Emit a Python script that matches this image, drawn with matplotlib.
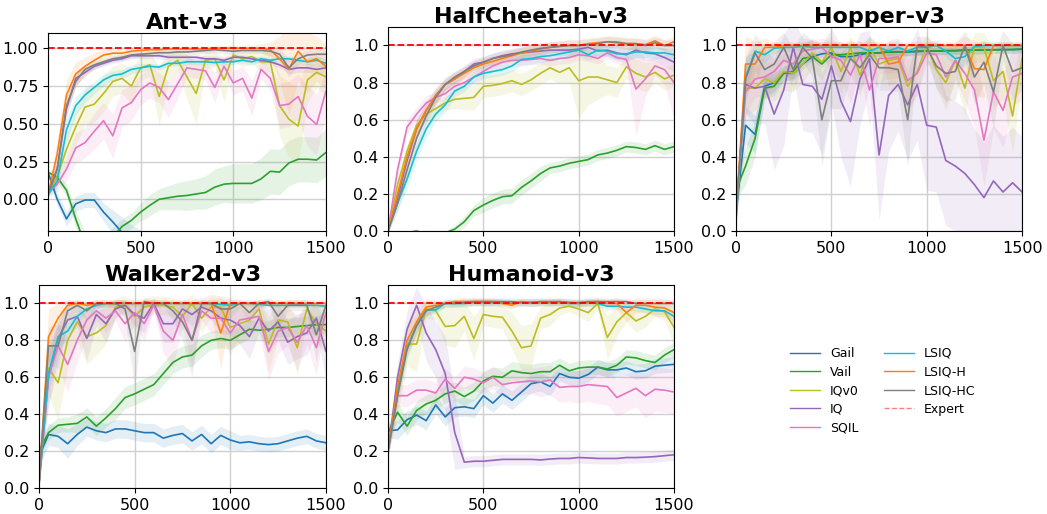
import numpy as np
import matplotlib
matplotlib.use("Agg")
import matplotlib.pyplot as plt
from matplotlib.lines import Line2D

plt.rcParams['font.family'] = ['DejaVu Sans']
plt.rcParams['font.size'] = 11

steps = list(range(0, 1501, 50))

methods = ["Gail", "Vail", "IQv0", "IQ", "SQIL", "LSIQ", "LSIQ-H", "LSIQ-HC"]
colors = ["tab:blue", "tab:green", "tab:olive", "tab:purple", "tab:pink",
          "tab:cyan", "tab:orange", "tab:gray"]
envs = ["Ant-v3", "HalfCheetah-v3", "Hopper-v3", "Walker2d-v3", "Humanoid-v3"]

# ---------------- Ant-v3 ----------------
ant_gail = [0.18, 0.0, -0.13, -0.03, -0.005, -0.005, -0.085, -0.15, -0.22, -0.3, -0.35, -0.45, -0.45, -0.45, -0.45, -0.45,
            -0.45, -0.45, -0.45, -0.45, -0.45, -0.45, -0.45, -0.45, -0.45, -0.45, -0.45, -0.45, -0.45, -0.45, -0.45]
ant_gail_sd = [0.02, 0.04, 0.05, 0.05, 0.05, 0.05, 0.06, 0.08, 0.1, 0.13, 0.15, 0.1, 0.1, 0.1, 0.1, 0.1,
               0.1, 0.1, 0.1, 0.1, 0.1, 0.1, 0.1, 0.1, 0.1, 0.1, 0.1, 0.1, 0.1, 0.1, 0.1]
ant_vail = [0.18, 0.145, 0.06, -0.13, -0.3, -0.35, -0.33, -0.25, -0.18, -0.14, -0.085, -0.04, 0.0, 0.01, 0.02, 0.025,
            0.035, 0.045, 0.08, 0.1, 0.105, 0.105, 0.105, 0.135, 0.185, 0.18, 0.24, 0.265, 0.265, 0.26, 0.31]
ant_vail_sd = [0.02, 0.03, 0.04, 0.06, 0.08, 0.08, 0.08, 0.06, 0.05, 0.05, 0.06, 0.07, 0.07, 0.08, 0.09, 0.1,
               0.1, 0.11, 0.12, 0.12, 0.13, 0.13, 0.13, 0.14, 0.15, 0.15, 0.15, 0.15, 0.15, 0.15, 0.16]
ant_iqv0 = [0.04, 0.15, 0.33, 0.48, 0.61, 0.63, 0.7, 0.78, 0.8, 0.75, 0.87, 0.89, 0.68, 0.88, 0.92, 0.81,
            0.7, 0.92, 0.93, 0.79, 0.955, 0.93, 0.945, 0.91, 0.91, 0.62, 0.53, 0.485, 0.79, 0.84, 0.81]
ant_iqv0_sd = [0.02, 0.06, 0.1, 0.12, 0.12, 0.12, 0.12, 0.1, 0.1, 0.12, 0.08, 0.08, 0.2, 0.1, 0.06, 0.15,
               0.2, 0.06, 0.05, 0.15, 0.04, 0.05, 0.05, 0.06, 0.08, 0.2, 0.25, 0.25, 0.15, 0.1, 0.12]
ant_iq = [0.03, 0.2, 0.6, 0.8, 0.84, 0.88, 0.9, 0.92, 0.93, 0.95, 0.95, 0.95, 0.95, 0.94, 0.94, 0.94,
          0.94, 0.93, 0.93, 0.92, 0.94, 0.94, 0.93, 0.92, 0.91, 0.89, 0.86, 0.87, 0.87, 0.86, 0.87]
ant_iq_sd = [0.02, 0.05, 0.06, 0.04, 0.03, 0.02, 0.02, 0.02, 0.02, 0.02, 0.02, 0.02, 0.02, 0.02, 0.02, 0.02,
             0.02, 0.02, 0.02, 0.02, 0.02, 0.02, 0.02, 0.02, 0.02, 0.02, 0.03, 0.03, 0.03, 0.03, 0.03]
ant_sqil = [0.04, 0.1, 0.2, 0.34, 0.375, 0.45, 0.52, 0.42, 0.605, 0.64, 0.725, 0.77, 0.74, 0.66, 0.765, 0.87,
            0.86, 0.85, 0.74, 0.88, 0.77, 0.8, 0.67, 0.86, 0.8, 0.62, 0.63, 0.68, 0.55, 0.495, 0.715]
ant_sqil_sd = [0.02, 0.05, 0.08, 0.1, 0.1, 0.12, 0.12, 0.15, 0.12, 0.12, 0.1, 0.1, 0.1, 0.12, 0.1, 0.06,
               0.06, 0.06, 0.1, 0.05, 0.08, 0.08, 0.12, 0.06, 0.08, 0.15, 0.15, 0.15, 0.2, 0.2, 0.15]
ant_lsiq = [0.03, 0.12, 0.46, 0.62, 0.69, 0.74, 0.79, 0.82, 0.83, 0.86, 0.87, 0.88, 0.875, 0.9, 0.9, 0.91,
            0.91, 0.91, 0.905, 0.91, 0.91, 0.92, 0.91, 0.93, 0.92, 0.93, 0.93, 0.92, 0.91, 0.92, 0.9]
ant_lsiq_sd = [0.02, 0.05, 0.08, 0.06, 0.05, 0.04, 0.04, 0.03, 0.03, 0.03, 0.03, 0.02, 0.02, 0.02, 0.02, 0.02,
               0.02, 0.02, 0.02, 0.02, 0.02, 0.02, 0.02, 0.02, 0.02, 0.02, 0.02, 0.02, 0.02, 0.03, 0.03]
ant_lsiqh = [0.03, 0.3, 0.69, 0.83, 0.88, 0.92, 0.955, 0.967, 0.967, 0.98, 0.985, 0.99, 0.99, 0.995, 0.995, 0.995,
             0.995, 0.995, 1.0, 1.0, 1.0, 1.0, 1.0, 1.0, 0.99, 0.93, 0.86, 0.98, 0.91, 0.93, 0.88]
ant_lsiqh_sd = [0.02, 0.1, 0.1, 0.08, 0.06, 0.05, 0.04, 0.03, 0.03, 0.03, 0.02, 0.02, 0.02, 0.02, 0.02, 0.02,
                0.02, 0.02, 0.02, 0.02, 0.02, 0.02, 0.02, 0.03, 0.05, 0.15, 0.3, 0.2, 0.2, 0.15, 0.15]
ant_lsiqhc = [0.04, 0.2, 0.62, 0.78, 0.86, 0.89, 0.91, 0.93, 0.94, 0.955, 0.96, 0.965, 0.97, 0.97, 0.975, 0.975,
              0.98, 0.985, 0.99, 0.985, 0.98, 0.985, 0.985, 0.985, 0.98, 0.96, 0.87, 0.93, 0.955, 0.96, 0.96]
ant_lsiqhc_sd = [0.02, 0.06, 0.06, 0.04, 0.03, 0.03, 0.02, 0.02, 0.02, 0.02, 0.02, 0.02, 0.02, 0.02, 0.02, 0.02,
                 0.02, 0.02, 0.02, 0.02, 0.02, 0.02, 0.02, 0.02, 0.03, 0.04, 0.06, 0.04, 0.03, 0.03, 0.03]

# ---------------- HalfCheetah-v3 ----------------
hc_gail = [-0.05] * 31
hc_gail_sd = [0.01] * 31
hc_vail = [0.0, -0.02, -0.01, 0.0, -0.02, -0.02, -0.01, 0.01, 0.05, 0.11, 0.14, 0.165, 0.185, 0.19, 0.235, 0.27,
           0.31, 0.34, 0.35, 0.365, 0.375, 0.385, 0.41, 0.42, 0.435, 0.455, 0.45, 0.44, 0.46, 0.44, 0.455]
hc_vail_sd = [0.01, 0.01, 0.01, 0.01, 0.01, 0.01, 0.01, 0.02, 0.03, 0.03, 0.04, 0.04, 0.04, 0.04, 0.04, 0.04,
              0.04, 0.03, 0.03, 0.03, 0.03, 0.03, 0.03, 0.03, 0.03, 0.03, 0.03, 0.03, 0.03, 0.03, 0.03]
hc_iqv0 = [0.0, 0.25, 0.43, 0.57, 0.63, 0.66, 0.69, 0.71, 0.715, 0.72, 0.78, 0.785, 0.795, 0.81, 0.79, 0.815,
           0.85, 0.88, 0.855, 0.88, 0.81, 0.83, 0.83, 0.815, 0.8, 0.885, 0.85, 0.83, 0.855, 0.82, 0.84]
hc_iqv0_sd = [0.01, 0.04, 0.04, 0.04, 0.04, 0.04, 0.04, 0.05, 0.06, 0.07, 0.06, 0.06, 0.06, 0.06, 0.06, 0.06,
              0.06, 0.06, 0.06, 0.08, 0.2, 0.15, 0.12, 0.08, 0.08, 0.06, 0.08, 0.08, 0.06, 0.06, 0.06]
hc_iq = [0.0, 0.18, 0.38, 0.55, 0.65, 0.73, 0.79, 0.82, 0.86, 0.9, 0.91, 0.93, 0.945, 0.955, 0.96, 0.965,
         0.97, 0.975, 0.975, 0.975, 0.98, 0.99, 0.97, 0.975, 0.96, 0.95, 0.975, 0.96, 0.955, 0.935, 0.91]
hc_iq_sd = [0.01, 0.04, 0.05, 0.05, 0.05, 0.04, 0.04, 0.04, 0.03, 0.03, 0.03, 0.03, 0.03, 0.03, 0.03, 0.03,
            0.03, 0.03, 0.03, 0.03, 0.03, 0.03, 0.03, 0.03, 0.04, 0.04, 0.04, 0.04, 0.04, 0.05, 0.05]
hc_sqil = [0.0, 0.33, 0.56, 0.63, 0.69, 0.72, 0.74, 0.78, 0.8, 0.83, 0.86, 0.89, 0.91, 0.92, 0.92, 0.925,
           0.93, 0.92, 0.93, 0.935, 0.95, 0.945, 0.93, 0.96, 0.935, 0.925, 0.765, 0.82, 0.89, 0.87, 0.8]
hc_sqil_sd = [0.01, 0.04, 0.04, 0.04, 0.04, 0.03, 0.03, 0.03, 0.03, 0.03, 0.03, 0.03, 0.03, 0.03, 0.03, 0.03,
              0.03, 0.03, 0.03, 0.03, 0.03, 0.03, 0.03, 0.03, 0.03, 0.04, 0.25, 0.1, 0.05, 0.08, 0.2]
hc_lsiq = [0.0, 0.15, 0.28, 0.43, 0.55, 0.63, 0.68, 0.755, 0.78, 0.83, 0.85, 0.86, 0.87, 0.89, 0.925, 0.93,
           0.94, 0.945, 0.955, 0.965, 0.975, 0.95, 0.975, 0.97, 0.955, 0.955, 0.965, 0.965, 0.96, 0.96, 0.95]
hc_lsiq_sd = [0.01, 0.04, 0.05, 0.05, 0.05, 0.04, 0.04, 0.03, 0.03, 0.03, 0.03, 0.03, 0.03, 0.03, 0.03, 0.03,
              0.03, 0.03, 0.03, 0.03, 0.03, 0.03, 0.03, 0.03, 0.03, 0.03, 0.03, 0.03, 0.03, 0.03, 0.03]
hc_lsiqh = [0.0, 0.2, 0.4, 0.55, 0.65, 0.73, 0.79, 0.82, 0.85, 0.88, 0.9, 0.915, 0.93, 0.945, 0.96, 0.97,
            0.98, 0.99, 0.995, 1.0, 1.0, 1.01, 1.015, 1.02, 1.02, 1.01, 1.01, 1.005, 1.025, 1.0, 1.02]
hc_lsiqh_sd = [0.01, 0.04, 0.05, 0.05, 0.04, 0.04, 0.03, 0.03, 0.03, 0.03, 0.03, 0.03, 0.03, 0.03, 0.03, 0.03,
               0.03, 0.03, 0.03, 0.03, 0.03, 0.03, 0.03, 0.03, 0.03, 0.03, 0.03, 0.03, 0.03, 0.03, 0.03]
hc_lsiqhc = [0.0, 0.15, 0.33, 0.5, 0.62, 0.72, 0.79, 0.83, 0.86, 0.89, 0.91, 0.93, 0.94, 0.95, 0.965, 0.975,
             0.985, 0.99, 0.995, 1.0, 1.0, 1.005, 1.01, 1.02, 1.015, 1.01, 1.01, 1.0, 1.015, 1.0, 1.0]
hc_lsiqhc_sd = [0.01, 0.04, 0.05, 0.05, 0.04, 0.04, 0.03, 0.03, 0.03, 0.03, 0.03, 0.03, 0.03, 0.03, 0.03, 0.03,
                0.03, 0.03, 0.03, 0.03, 0.03, 0.03, 0.03, 0.03, 0.03, 0.03, 0.03, 0.03, 0.03, 0.03, 0.03]

# ---------------- Hopper-v3 ----------------
hop_gail = [0.1, 0.57, 0.52, 0.78, 0.8, 0.85, 0.85, 0.9, 0.94, 0.955, 0.96, 0.94, 0.94, 0.95, 0.96, 0.96,
            0.965, 0.965, 0.965, 0.967, 0.97, 0.97, 0.972, 0.972, 0.975, 0.975, 0.975, 0.977, 0.977, 0.978, 0.98]
hop_gail_sd = [0.05, 0.1, 0.1, 0.06, 0.05, 0.04, 0.04, 0.03, 0.02, 0.02, 0.02, 0.02, 0.02, 0.02, 0.02, 0.02,
               0.02, 0.02, 0.02, 0.02, 0.02, 0.02, 0.02, 0.02, 0.02, 0.02, 0.02, 0.02, 0.02, 0.02, 0.02]
hop_vail = [0.22, 0.35, 0.5, 0.77, 0.78, 0.85, 0.86, 0.93, 0.94, 0.9, 0.95, 0.95, 0.955, 0.96, 0.96, 0.96,
            0.965, 0.965, 0.967, 0.97, 0.97, 0.97, 0.972, 0.972, 0.975, 0.975, 0.975, 0.977, 0.978, 0.978, 0.98]
hop_vail_sd = [0.05, 0.1, 0.1, 0.06, 0.05, 0.04, 0.04, 0.03, 0.02, 0.02, 0.02, 0.02, 0.02, 0.02, 0.02, 0.02,
               0.02, 0.02, 0.02, 0.02, 0.02, 0.02, 0.02, 0.02, 0.02, 0.02, 0.02, 0.02, 0.02, 0.02, 0.02]
hop_iqv0 = [0.1, 0.77, 0.77, 0.82, 0.8, 0.86, 0.85, 0.9, 0.96, 0.91, 0.99, 0.86, 0.99, 0.84, 0.99, 0.9,
            0.92, 0.93, 0.78, 0.86, 1.0, 0.87, 0.8, 0.92, 0.77, 0.99, 0.99, 0.81, 0.86, 0.62, 0.93]
hop_iqv0_sd = [0.05, 0.15, 0.12, 0.1, 0.1, 0.1, 0.1, 0.1, 0.08, 0.1, 0.06, 0.12, 0.06, 0.12, 0.06, 0.1,
               0.1, 0.1, 0.15, 0.12, 0.06, 0.1, 0.15, 0.1, 0.15, 0.08, 0.08, 0.15, 0.15, 0.2, 0.12]
hop_iq = [0.1, 0.79, 0.77, 0.78, 0.63, 0.76, 0.99, 0.79, 0.78, 0.71, 0.89, 0.7, 0.59, 0.82, 0.93, 0.41,
          0.73, 0.79, 0.68, 0.79, 0.57, 0.56, 0.38, 0.35, 0.31, 0.25, 0.18, 0.27, 0.21, 0.26, 0.21]
hop_iq_sd = [0.05, 0.15, 0.2, 0.2, 0.3, 0.3, 0.15, 0.25, 0.25, 0.3, 0.2, 0.3, 0.35, 0.25, 0.15, 0.35,
             0.3, 0.25, 0.3, 0.3, 0.35, 0.35, 0.35, 0.35, 0.35, 0.3, 0.3, 0.3, 0.3, 0.3, 0.3]
hop_sqil = [0.1, 0.75, 0.82, 0.83, 0.86, 0.92, 0.9, 0.97, 0.98, 0.99, 0.94, 0.92, 0.84, 0.95, 0.76, 0.93,
            0.93, 0.94, 0.81, 0.85, 0.96, 0.95, 0.83, 0.92, 0.85, 0.76, 0.49, 0.75, 0.65, 0.83, 0.85]
hop_sqil_sd = [0.05, 0.12, 0.1, 0.1, 0.1, 0.08, 0.08, 0.05, 0.05, 0.05, 0.08, 0.1, 0.15, 0.08, 0.2, 0.08,
               0.08, 0.08, 0.15, 0.12, 0.06, 0.08, 0.15, 0.1, 0.15, 0.2, 0.25, 0.2, 0.2, 0.15, 0.15]
hop_lsiq = [0.06, 0.83, 0.97, 0.95, 0.985, 0.99, 0.99, 0.995, 0.99, 0.99, 0.99, 0.99, 0.99, 0.99, 0.97, 0.99,
            0.97, 0.99, 0.97, 0.99, 0.99, 1.0, 0.97, 0.93, 0.94, 0.995, 1.0, 1.0, 1.0, 1.0, 1.0]
hop_lsiq_sd = [0.05, 0.1, 0.04, 0.04, 0.03, 0.02, 0.02, 0.02, 0.02, 0.02, 0.02, 0.02, 0.02, 0.02, 0.03, 0.02,
               0.03, 0.02, 0.03, 0.02, 0.02, 0.02, 0.03, 0.05, 0.05, 0.02, 0.02, 0.02, 0.02, 0.02, 0.02]
hop_lsiqh = [0.08, 0.9, 0.9, 0.99, 0.99, 1.0, 1.0, 1.0, 1.0, 1.0, 1.0, 1.0, 1.0, 1.0, 1.0, 1.0,
             0.9, 0.91, 1.0, 1.0, 1.0, 1.0, 1.0, 1.0, 1.0, 0.875, 0.87, 1.0, 1.0, 1.0, 1.0]
hop_lsiqh_sd = [0.05, 0.15, 0.12, 0.05, 0.03, 0.02, 0.02, 0.02, 0.02, 0.02, 0.02, 0.02, 0.02, 0.02, 0.02, 0.02,
                0.12, 0.1, 0.02, 0.02, 0.02, 0.02, 0.02, 0.02, 0.05, 0.15, 0.15, 0.02, 0.02, 0.02, 0.02]
hop_lsiqhc = [0.1, 0.82, 0.96, 0.87, 0.9, 0.99, 0.87, 0.99, 0.93, 0.6, 0.81, 0.81, 0.93, 0.88, 0.95, 0.88,
              0.88, 0.87, 0.6, 1.0, 0.99, 0.89, 0.85, 0.86, 1.0, 0.83, 0.91, 0.75, 1.0, 0.86, 0.88]
hop_lsiqhc_sd = [0.05, 0.12, 0.1, 0.12, 0.12, 0.08, 0.12, 0.08, 0.1, 0.25, 0.15, 0.15, 0.1, 0.12, 0.1, 0.12,
                 0.12, 0.12, 0.25, 0.05, 0.06, 0.12, 0.15, 0.15, 0.08, 0.15, 0.12, 0.2, 0.08, 0.15, 0.12]

# ---------------- Walker2d-v3 ----------------
wk_gail = [0.17, 0.29, 0.28, 0.24, 0.29, 0.33, 0.31, 0.3, 0.32, 0.32, 0.31, 0.3, 0.3, 0.27, 0.285, 0.295,
           0.255, 0.29, 0.24, 0.285, 0.26, 0.245, 0.25, 0.24, 0.235, 0.24, 0.255, 0.27, 0.28, 0.255, 0.245]
wk_gail_sd = [0.05, 0.06, 0.06, 0.08, 0.06, 0.05, 0.05, 0.05, 0.05, 0.05, 0.05, 0.05, 0.05, 0.05, 0.05, 0.05,
              0.05, 0.05, 0.05, 0.05, 0.05, 0.04, 0.04, 0.04, 0.04, 0.04, 0.04, 0.04, 0.04, 0.04, 0.04]
wk_vail = [0.2, 0.3, 0.34, 0.345, 0.35, 0.385, 0.335, 0.38, 0.43, 0.49, 0.51, 0.535, 0.56, 0.62, 0.68, 0.71,
           0.72, 0.77, 0.8, 0.81, 0.8, 0.83, 0.86, 0.855, 0.86, 0.87, 0.87, 0.875, 0.88, 0.885, 0.885]
wk_vail_sd = [0.03, 0.04, 0.04, 0.04, 0.05, 0.05, 0.05, 0.05, 0.06, 0.06, 0.06, 0.06, 0.06, 0.06, 0.06, 0.06,
              0.06, 0.06, 0.05, 0.05, 0.05, 0.05, 0.05, 0.05, 0.05, 0.05, 0.05, 0.05, 0.05, 0.05, 0.05]
wk_iqv0 = [0.02, 0.65, 0.57, 0.8, 0.9, 0.82, 0.84, 0.88, 0.98, 0.99, 0.93, 0.98, 0.99, 0.99, 0.98, 0.93,
           1.0, 0.92, 0.98, 0.98, 0.87, 0.89, 0.91, 0.97, 0.78, 0.91, 0.9, 0.76, 0.97, 0.89, 0.85]
wk_iqv0_sd = [0.02, 0.15, 0.2, 0.15, 0.1, 0.15, 0.12, 0.1, 0.05, 0.05, 0.08, 0.05, 0.05, 0.05, 0.05, 0.08,
              0.05, 0.08, 0.05, 0.05, 0.12, 0.1, 0.1, 0.05, 0.15, 0.1, 0.1, 0.15, 0.05, 0.1, 0.12]
wk_iq = [0.02, 0.6, 0.81, 0.91, 0.93, 0.81, 0.94, 0.89, 0.97, 0.99, 0.94, 0.92, 1.0, 0.89, 0.89, 0.97,
         0.94, 0.98, 0.96, 0.92, 0.91, 0.88, 0.82, 0.92, 0.85, 0.9, 0.79, 0.82, 0.84, 0.92, 0.74]
wk_iq_sd = [0.02, 0.15, 0.1, 0.08, 0.06, 0.12, 0.06, 0.1, 0.05, 0.03, 0.06, 0.08, 0.03, 0.1, 0.1, 0.05,
            0.06, 0.04, 0.05, 0.08, 0.08, 0.1, 0.12, 0.08, 0.12, 0.1, 0.12, 0.12, 0.12, 0.08, 0.15]
wk_sqil = [0.02, 0.6, 0.77, 0.67, 0.8, 0.91, 0.96, 0.92, 0.96, 0.89, 0.95, 0.89, 0.99, 0.85, 0.8, 0.94,
           0.8, 0.96, 0.92, 0.92, 0.84, 0.91, 0.92, 0.93, 0.74, 0.85, 0.87, 0.79, 0.88, 0.76, 0.95]
wk_sqil_sd = [0.02, 0.15, 0.12, 0.15, 0.12, 0.08, 0.05, 0.08, 0.05, 0.1, 0.06, 0.1, 0.03, 0.12, 0.15, 0.06,
              0.15, 0.05, 0.08, 0.08, 0.12, 0.08, 0.08, 0.08, 0.15, 0.12, 0.1, 0.15, 0.1, 0.15, 0.05]
wk_lsiq = [0.02, 0.62, 0.82, 0.85, 0.93, 0.97, 0.99, 1.0, 1.0, 1.0, 1.0, 1.0, 1.0, 1.0, 1.0, 1.0,
           1.0, 1.0, 1.0, 0.995, 0.99, 1.0, 1.0, 0.995, 0.99, 0.99, 0.99, 0.99, 0.99, 0.99, 0.985]
wk_lsiq_sd = [0.02, 0.1, 0.06, 0.05, 0.03, 0.02, 0.02, 0.01, 0.01, 0.01, 0.01, 0.01, 0.01, 0.01, 0.01, 0.01,
              0.01, 0.01, 0.01, 0.01, 0.01, 0.01, 0.01, 0.01, 0.01, 0.01, 0.01, 0.01, 0.01, 0.01, 0.01]
wk_lsiqh = [0.02, 0.82, 0.92, 0.99, 1.0, 0.99, 1.0, 1.0, 1.0, 1.0, 1.0, 1.0, 1.0, 1.0, 1.0, 1.0,
            1.0, 1.0, 1.0, 0.84, 1.0, 1.0, 1.0, 1.0, 1.0, 1.0, 1.0, 1.0, 1.0, 1.0, 1.0]
wk_lsiqh_sd = [0.02, 0.15, 0.08, 0.03, 0.02, 0.02, 0.02, 0.02, 0.02, 0.02, 0.02, 0.02, 0.02, 0.02, 0.02, 0.02,
               0.02, 0.03, 0.05, 0.2, 0.03, 0.02, 0.02, 0.02, 0.02, 0.02, 0.02, 0.02, 0.02, 0.02, 0.02]
wk_lsiqhc = [0.02, 0.77, 0.77, 0.96, 0.99, 0.96, 1.0, 1.0, 1.0, 0.97, 0.74, 1.01, 1.0, 1.0, 0.96, 0.9,
             0.8, 1.0, 1.0, 0.97, 0.97, 1.0, 0.95, 1.0, 1.01, 0.93, 0.99, 0.99, 0.99, 0.83, 0.99]
wk_lsiqhc_sd = [0.02, 0.1, 0.12, 0.05, 0.03, 0.05, 0.02, 0.02, 0.02, 0.05, 0.2, 0.02, 0.02, 0.02, 0.05, 0.1,
                0.2, 0.02, 0.02, 0.05, 0.05, 0.02, 0.06, 0.02, 0.02, 0.08, 0.03, 0.03, 0.03, 0.15, 0.03]

# ---------------- Humanoid-v3 ----------------
hu_gail = [0.31, 0.315, 0.37, 0.395, 0.365, 0.45, 0.385, 0.435, 0.44, 0.43, 0.5, 0.46, 0.51, 0.475, 0.52, 0.565,
           0.575, 0.55, 0.62, 0.6, 0.595, 0.615, 0.655, 0.64, 0.64, 0.65, 0.63, 0.635, 0.66, 0.665, 0.67]
hu_gail_sd = [0.04, 0.05, 0.05, 0.05, 0.05, 0.05, 0.05, 0.05, 0.05, 0.05, 0.05, 0.05, 0.05, 0.05, 0.05, 0.05,
              0.05, 0.05, 0.04, 0.04, 0.04, 0.04, 0.04, 0.04, 0.04, 0.04, 0.04, 0.04, 0.04, 0.04, 0.04]
hu_vail = [0.3, 0.41, 0.335, 0.42, 0.455, 0.475, 0.51, 0.525, 0.495, 0.525, 0.58, 0.605, 0.6, 0.635, 0.625, 0.62,
           0.63, 0.63, 0.665, 0.635, 0.65, 0.655, 0.655, 0.645, 0.665, 0.71, 0.705, 0.69, 0.68, 0.72, 0.75]
hu_vail_sd = [0.04, 0.05, 0.05, 0.05, 0.05, 0.05, 0.05, 0.05, 0.05, 0.05, 0.05, 0.05, 0.05, 0.05, 0.05, 0.05,
              0.05, 0.05, 0.04, 0.04, 0.04, 0.04, 0.04, 0.04, 0.04, 0.04, 0.04, 0.04, 0.04, 0.04, 0.04]
hu_iqv0 = [0.2, 0.5, 0.78, 0.78, 0.97, 0.96, 0.875, 0.88, 0.93, 0.81, 0.94, 0.93, 0.925, 0.85, 0.76, 0.77,
           0.92, 0.94, 0.975, 0.985, 0.97, 0.95, 1.0, 0.815, 0.9, 0.95, 0.905, 0.93, 0.97, 0.955, 0.87]
hu_iqv0_sd = [0.03, 0.1, 0.12, 0.15, 0.05, 0.05, 0.1, 0.12, 0.08, 0.12, 0.06, 0.06, 0.06, 0.1, 0.12, 0.12,
              0.06, 0.06, 0.04, 0.03, 0.04, 0.05, 0.03, 0.12, 0.08, 0.05, 0.06, 0.06, 0.04, 0.05, 0.1]
hu_iq = [0.2, 0.6, 0.86, 0.99, 0.84, 0.75, 0.62, 0.3, 0.14, 0.145, 0.145, 0.15, 0.155, 0.155, 0.155, 0.155,
         0.152, 0.157, 0.16, 0.16, 0.165, 0.163, 0.16, 0.16, 0.16, 0.165, 0.165, 0.167, 0.17, 0.175, 0.18]
hu_iq_sd = [0.03, 0.08, 0.1, 0.1, 0.15, 0.15, 0.2, 0.2, 0.03, 0.03, 0.03, 0.03, 0.03, 0.03, 0.03, 0.03,
            0.03, 0.03, 0.03, 0.03, 0.03, 0.03, 0.03, 0.03, 0.03, 0.03, 0.03, 0.03, 0.03, 0.03, 0.03]
hu_sqil = [0.2, 0.5, 0.5, 0.53, 0.53, 0.515, 0.59, 0.54, 0.6, 0.59, 0.57, 0.6, 0.56, 0.57, 0.575, 0.58,
           0.575, 0.585, 0.545, 0.55, 0.55, 0.56, 0.555, 0.55, 0.49, 0.515, 0.54, 0.5, 0.535, 0.53, 0.52]
hu_sqil_sd = [0.03, 0.06, 0.06, 0.06, 0.06, 0.06, 0.06, 0.06, 0.06, 0.06, 0.06, 0.06, 0.07, 0.07, 0.07, 0.07,
              0.08, 0.08, 0.08, 0.08, 0.09, 0.09, 0.1, 0.1, 0.1, 0.1, 0.1, 0.12, 0.12, 0.12, 0.12]
hu_lsiq = [0.2, 0.52, 0.76, 0.88, 0.965, 0.965, 1.0, 1.0, 1.0, 1.005, 1.005, 1.005, 1.005, 1.0, 1.005, 1.005,
           1.005, 1.005, 1.005, 1.0, 1.0, 1.005, 1.0, 0.985, 0.985, 0.98, 0.98, 0.97, 0.96, 0.96, 0.93]
hu_lsiq_sd = [0.03, 0.05, 0.05, 0.04, 0.03, 0.02, 0.02, 0.02, 0.02, 0.02, 0.02, 0.02, 0.02, 0.02, 0.02, 0.02,
              0.02, 0.02, 0.02, 0.02, 0.02, 0.02, 0.02, 0.02, 0.02, 0.02, 0.02, 0.02, 0.02, 0.02, 0.03]
hu_lsiqh = [0.2, 0.55, 0.8, 0.9, 0.98, 0.99, 1.0, 1.01, 1.01, 1.01, 1.01, 1.01, 1.0, 0.99, 1.01, 1.005,
            1.005, 1.005, 1.01, 1.005, 1.0, 1.005, 1.01, 1.0, 1.0, 0.95, 0.99, 0.99, 0.98, 0.975, 0.95]
hu_lsiqh_sd = [0.03, 0.06, 0.06, 0.08, 0.04, 0.03, 0.02, 0.02, 0.02, 0.02, 0.02, 0.02, 0.02, 0.02, 0.02, 0.02,
               0.02, 0.02, 0.02, 0.02, 0.02, 0.02, 0.02, 0.02, 0.03, 0.05, 0.04, 0.04, 0.05, 0.05, 0.06]
hu_lsiqhc = [0.2, 0.5, 0.75, 0.88, 0.96, 0.98, 1.0, 1.0, 1.005, 1.01, 1.01, 1.01, 1.01, 1.01, 1.005, 1.005,
             1.01, 1.01, 1.01, 1.005, 1.005, 1.01, 1.01, 1.01, 1.01, 1.01, 1.0, 1.0, 1.0, 1.0, 1.0]
hu_lsiqhc_sd = [0.03, 0.05, 0.05, 0.04, 0.03, 0.02, 0.02, 0.02, 0.02, 0.02, 0.02, 0.02, 0.02, 0.02, 0.02, 0.02,
                0.02, 0.02, 0.02, 0.02, 0.02, 0.02, 0.02, 0.02, 0.02, 0.02, 0.02, 0.02, 0.02, 0.02, 0.02]

means = {
    "Ant-v3": [ant_gail, ant_vail, ant_iqv0, ant_iq, ant_sqil, ant_lsiq, ant_lsiqh, ant_lsiqhc],
    "HalfCheetah-v3": [hc_gail, hc_vail, hc_iqv0, hc_iq, hc_sqil, hc_lsiq, hc_lsiqh, hc_lsiqhc],
    "Hopper-v3": [hop_gail, hop_vail, hop_iqv0, hop_iq, hop_sqil, hop_lsiq, hop_lsiqh, hop_lsiqhc],
    "Walker2d-v3": [wk_gail, wk_vail, wk_iqv0, wk_iq, wk_sqil, wk_lsiq, wk_lsiqh, wk_lsiqhc],
    "Humanoid-v3": [hu_gail, hu_vail, hu_iqv0, hu_iq, hu_sqil, hu_lsiq, hu_lsiqh, hu_lsiqhc],
}
stds = {
    "Ant-v3": [ant_gail_sd, ant_vail_sd, ant_iqv0_sd, ant_iq_sd, ant_sqil_sd, ant_lsiq_sd, ant_lsiqh_sd, ant_lsiqhc_sd],
    "HalfCheetah-v3": [hc_gail_sd, hc_vail_sd, hc_iqv0_sd, hc_iq_sd, hc_sqil_sd, hc_lsiq_sd, hc_lsiqh_sd, hc_lsiqhc_sd],
    "Hopper-v3": [hop_gail_sd, hop_vail_sd, hop_iqv0_sd, hop_iq_sd, hop_sqil_sd, hop_lsiq_sd, hop_lsiqh_sd, hop_lsiqhc_sd],
    "Walker2d-v3": [wk_gail_sd, wk_vail_sd, wk_iqv0_sd, wk_iq_sd, wk_sqil_sd, wk_lsiq_sd, wk_lsiqh_sd, wk_lsiqhc_sd],
    "Humanoid-v3": [hu_gail_sd, hu_vail_sd, hu_iqv0_sd, hu_iq_sd, hu_sqil_sd, hu_lsiq_sd, hu_lsiqh_sd, hu_lsiqhc_sd],
}

# axes boxes (left, bottom, width, height) in figure fraction
boxes = {
    "Ant-v3": [0.0458, 0.5506, 0.2655, 0.385],
    "HalfCheetah-v3": [0.3706, 0.5506, 0.2732, 0.397],
    "Hopper-v3": [0.703, 0.5506, 0.2732, 0.397],
    "Walker2d-v3": [0.0372, 0.0506, 0.2741, 0.395],
    "Humanoid-v3": [0.3706, 0.0506, 0.2732, 0.395],
}

fig = plt.figure(figsize=(10.47, 5.14), dpi=100)

for env in envs:
    ax = fig.add_axes(boxes[env])
    x = np.array(steps)
    for m, c, mu, sd in zip(methods, colors, means[env], stds[env]):
        mu = np.array(mu)
        sd = np.array(sd)
        ax.fill_between(x, mu - sd, mu + sd, color=c, alpha=0.12, lw=0)
        ax.plot(x, mu, color=c, lw=1.2)
    ax.axhline(1.0, color="red", ls="--", lw=1.3)
    ax.set_xlim(0, 1500)
    ax.set_xticks([0, 500, 1000, 1500])
    if env == "Ant-v3":
        ax.set_ylim(-0.21, 1.1)
        ax.set_yticks([0.0, 0.25, 0.5, 0.75, 1.0])
        ax.set_yticklabels(["0.00", "0.25", "0.50", "0.75", "1.00"])
    else:
        ax.set_ylim(0, 1.1)
        ax.set_yticks([0.0, 0.2, 0.4, 0.6, 0.8, 1.0])
    ax.tick_params(labelsize=11.5)
    ax.grid(True, color="#d0d0d0", lw=1.0)
    ax.set_axisbelow(True)
    ax.set_title(env, fontsize=16, fontweight="bold", pad=3)

handles = [Line2D([0], [0], color=c, lw=1) for c in colors]
labels = list(methods)
handles.append(Line2D([0], [0], color="red", lw=1, ls="--", alpha=0.5))
labels.append("Expert")
fig.legend(handles, labels, loc="center",
           bbox_to_anchor=(0.843, 0.24), ncol=2, frameon=False, fontsize=9,
           handlelength=2.4, columnspacing=2.0, labelspacing=0.45)

fig.savefig("out.png", dpi=100)
